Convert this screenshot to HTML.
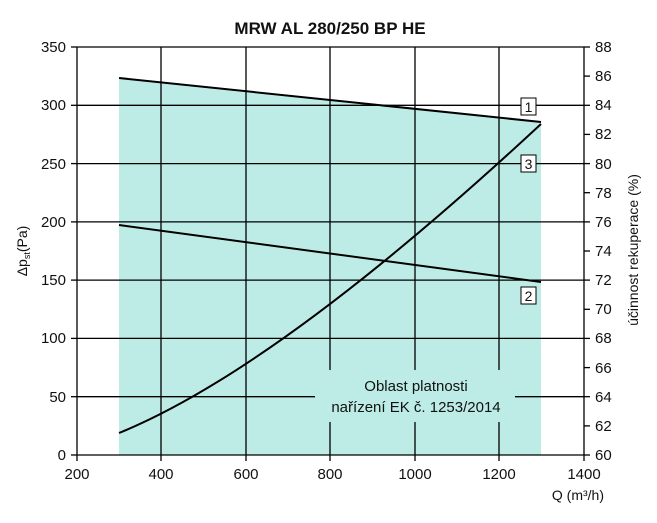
<!DOCTYPE html>
<html><head><meta charset="utf-8"><style>
body{margin:0;background:#fff}
svg text{font-family:"Liberation Sans",sans-serif;fill:#111}
</style></head><body>
<svg width="657" height="518" viewBox="0 0 657 518" xmlns="http://www.w3.org/2000/svg">
<text x="330" y="34" font-size="17" font-weight="bold" text-anchor="middle">MRW AL 280/250 BP HE</text>
<polygon points="119,78 541,122 541,455 119,455" fill="#bdece6"/>
<g stroke="#000" stroke-width="1.3">
<line x1="77" y1="47" x2="584" y2="47"/>
<line x1="77" y1="105.3" x2="584" y2="105.3"/>
<line x1="77" y1="163.6" x2="584" y2="163.6"/>
<line x1="77" y1="221.9" x2="584" y2="221.9"/>
<line x1="77" y1="280.1" x2="584" y2="280.1"/>
<line x1="77" y1="338.4" x2="584" y2="338.4"/>
<line x1="77" y1="396.7" x2="315" y2="396.7"/>
<line x1="515" y1="396.7" x2="584" y2="396.7"/>
<line x1="77" y1="455" x2="584" y2="455"/>
<line x1="77" y1="47" x2="77" y2="455"/>
<line x1="584" y1="47" x2="584" y2="455"/>
<line x1="161" y1="47" x2="161" y2="455"/>
<line x1="246" y1="47" x2="246" y2="455"/>
<line x1="330" y1="47" x2="330" y2="370"/>
<line x1="330" y1="422" x2="330" y2="455"/>
<line x1="415" y1="47" x2="415" y2="370"/>
<line x1="415" y1="422" x2="415" y2="455"/>
<line x1="499" y1="47" x2="499" y2="370"/>
<line x1="499" y1="422" x2="499" y2="455"/>
<line x1="71" y1="47" x2="77" y2="47"/><line x1="71" y1="105.3" x2="77" y2="105.3"/><line x1="71" y1="163.6" x2="77" y2="163.6"/><line x1="71" y1="221.9" x2="77" y2="221.9"/><line x1="71" y1="280.1" x2="77" y2="280.1"/><line x1="71" y1="338.4" x2="77" y2="338.4"/><line x1="71" y1="396.7" x2="77" y2="396.7"/><line x1="71" y1="455" x2="77" y2="455"/>
<line x1="77" y1="455" x2="77" y2="461"/><line x1="161" y1="455" x2="161" y2="461"/><line x1="246" y1="455" x2="246" y2="461"/><line x1="330" y1="455" x2="330" y2="461"/><line x1="415" y1="455" x2="415" y2="461"/><line x1="499" y1="455" x2="499" y2="461"/><line x1="584" y1="455" x2="584" y2="461"/>
</g>
<g stroke="#000" stroke-width="1.3">
<line x1="584" y1="47" x2="590" y2="47"/><line x1="584" y1="76.1" x2="590" y2="76.1"/><line x1="584" y1="105.3" x2="590" y2="105.3"/><line x1="584" y1="134.4" x2="590" y2="134.4"/><line x1="584" y1="163.6" x2="590" y2="163.6"/><line x1="584" y1="192.7" x2="590" y2="192.7"/><line x1="584" y1="221.9" x2="590" y2="221.9"/><line x1="584" y1="251" x2="590" y2="251"/><line x1="584" y1="280.1" x2="590" y2="280.1"/><line x1="584" y1="309.3" x2="590" y2="309.3"/><line x1="584" y1="338.4" x2="590" y2="338.4"/><line x1="584" y1="367.6" x2="590" y2="367.6"/><line x1="584" y1="396.7" x2="590" y2="396.7"/><line x1="584" y1="425.9" x2="590" y2="425.9"/><line x1="584" y1="455" x2="590" y2="455"/>
</g>
<g font-size="15" text-anchor="end">
<text x="66" y="52">350</text><text x="66" y="110">300</text><text x="66" y="169">250</text><text x="66" y="227">200</text><text x="66" y="285">150</text><text x="66" y="343">100</text><text x="66" y="402">50</text><text x="66" y="460">0</text>
</g>
<g font-size="15" text-anchor="start">
<text x="595" y="52">88</text><text x="595" y="81">86</text><text x="595" y="110">84</text><text x="595" y="139">82</text><text x="595" y="169">80</text><text x="595" y="198">78</text><text x="595" y="227">76</text><text x="595" y="256">74</text><text x="595" y="285">72</text><text x="595" y="314">70</text><text x="595" y="343">68</text><text x="595" y="373">66</text><text x="595" y="402">64</text><text x="595" y="431">62</text><text x="595" y="460">60</text>
</g>
<g font-size="15" text-anchor="middle">
<text x="77" y="479">200</text><text x="161" y="479">400</text><text x="246" y="479">600</text><text x="330" y="479">800</text><text x="415" y="479">1000</text><text x="499" y="479">1200</text><text x="584" y="479">1400</text>
</g>
<text x="604" y="500" font-size="14" text-anchor="end">Q (m³/h)</text>
<text transform="translate(27,251) rotate(-90)" font-size="14" text-anchor="middle">Δp<tspan font-size="9" dy="3">st</tspan><tspan dy="-3">(Pa)</tspan></text>
<text transform="translate(638,250) rotate(-90)" font-size="14" text-anchor="middle">účinnost rekuperace (%)</text>
<text x="416" y="391" font-size="15" text-anchor="middle">Oblast platnosti</text>
<text x="416" y="412" font-size="15" text-anchor="middle">nařízení EK č. 1253/2014</text>
<g stroke="#000" stroke-width="2" fill="none">
<line x1="119" y1="78" x2="541" y2="122"/>
<line x1="119" y1="225" x2="541" y2="282"/>
<path d="M119,433 C200,400 330,320 541,124"/>
</g>
<g font-size="14" text-anchor="middle">
<rect x="521" y="98" width="15" height="17" fill="#fff" stroke="#000"/><text x="528.5" y="112">1</text>
<rect x="521" y="155" width="15" height="17" fill="#fff" stroke="#000"/><text x="528.5" y="169">3</text>
<rect x="521" y="287" width="15" height="17" fill="#fff" stroke="#000"/><text x="528.5" y="301">2</text>
</g>
</svg>
</body></html>
